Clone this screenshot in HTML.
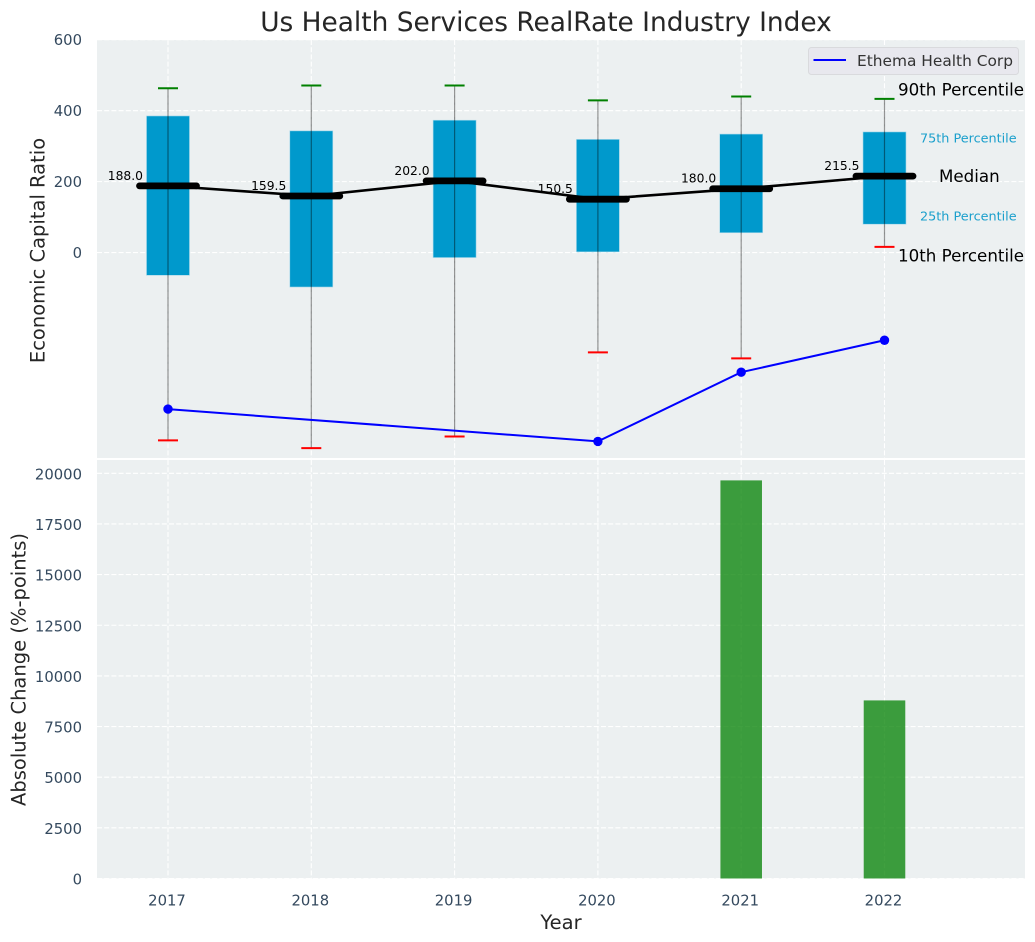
<!DOCTYPE html>
<html lang="en">
<head>
<meta charset="utf-8">
<title>Us Health Services RealRate Industry Index</title>
<style>
html,body{margin:0;padding:0;background:#fff;}
svg{display:block;font-family:"DejaVu Sans","Liberation Sans",sans-serif;}
</style>
</head>
<body>
<svg id="chart" xmlns="http://www.w3.org/2000/svg" width="1035" height="942" viewBox="0 0 1035 942">
  <rect x="0" y="0" width="1035" height="942" fill="#ffffff"/>
  <rect x="97" y="40" width="928" height="418" fill="#ecf0f1"/>
  <rect x="97" y="460" width="928" height="418.5" fill="#ecf0f1"/>
  <g id="layer-grid"></g>
  <g id="layer-marks"></g>
  <g id="layer-ticks"></g>
  <text x="546" y="31" text-anchor="middle" font-size="26.400px" fill="#262626">Us Health Services RealRate Industry Index</text>
  <text transform="translate(44.500,250.500) rotate(-90)" text-anchor="middle" font-size="19.500px" fill="#262626">Economic Capital Ratio</text>
  <text transform="translate(25.500,669.500) rotate(-90)" text-anchor="middle" font-size="19.500px" fill="#262626">Absolute Change (%-points)</text>
  <text x="561" y="929" text-anchor="middle" font-size="19.500px" fill="#262626">Year</text>
  <g>
    <rect x="808.5" y="47.5" width="210" height="27" rx="3" fill="#e8e8ee" stroke="#d9dadd" stroke-width="1"/>
    <line x1="813.5" y1="60" x2="846" y2="60" stroke="#0000ff" stroke-width="2"/>
    <text x="857" y="66" font-size="15.400px" fill="#333333">Ethema Health Corp</text>
  </g>
  <g>
    <text x="898" y="95.500" font-size="16.700px" fill="#000000">90th Percentile</text>
    <text x="920" y="142.500" font-size="12.800px" fill="#1a9fcc">75th Percentile</text>
    <text x="939" y="182" font-size="16.700px" fill="#000000">Median</text>
    <text x="920" y="220.500" font-size="12.800px" fill="#1a9fcc">25th Percentile</text>
    <text x="898" y="261.500" font-size="16.700px" fill="#000000">10th Percentile</text>
  </g>
</svg>
<script>
const years = [2017, 2018, 2019, 2020, 2021, 2022];
const p90 = [463, 471, 471, 429, 440, 433];
const p75 = [385, 343, 373, 319, 334, 340];
const medians = [188.0, 159.5, 202.0, 150.5, 180.0, 215.5];
const p25 = [-64, -97, -14, 2, 56, 80];
const p10 = [-529, -551, -518, -281, -298, 16];
const companyValues = [-441, null, null, -532, -337, -247];
const changeValues = [null, null, null, null, 19650, 8790];
const topTicks = [0, 200, 400, 600];
const bottomTicks = [0, 2500, 5000, 7500, 10000, 12500, 15000, 17500, 20000];

const NS = 'http://www.w3.org/2000/svg';
const xScale = function (year) { return 168 + (year - 2017) * 143.3; };
const yTop = function (value) { return 252.6 - value * 0.3549; };
const yBottom = function (value) { return 878.5 - value * 0.02026; };
const xWidth = function (yearSpan) { return yearSpan * 143.3; };

function make(parent, tag, attrs, text) {
  const el = document.createElementNS(NS, tag);
  for (const key in attrs) el.setAttribute(key, attrs[key]);
  if (text !== undefined) el.textContent = text;
  parent.appendChild(el);
  return el;
}

const gridLayer = document.getElementById('layer-grid');
const markLayer = document.getElementById('layer-marks');
const tickLayer = document.getElementById('layer-ticks');
const gridStyle = { stroke: '#ffffff', 'stroke-width': 1.1, 'stroke-dasharray': '5 2.2', fill: 'none' };
const tickStyle = { fill: '#34495e', 'font-size': '14.800px' };

years.forEach(function (year) {
  const x = xScale(year);
  const upper = make(gridLayer, 'line', Object.assign({ x1: x, x2: x, y1: 40, y2: 458 }, gridStyle));
  
  
  const lower = make(gridLayer, 'line', Object.assign({ x1: x, x2: x, y1: 460, y2: 878.5 }, gridStyle));
  
  
  const label = make(tickLayer, 'text', Object.assign({ x: x - 1, y: 905.5, 'text-anchor': 'middle' }, tickStyle), String(year));
  
  
});

topTicks.forEach(function (tick) {
  const y = yTop(tick);
  const grid = make(gridLayer, 'line', Object.assign({ x1: 97, x2: 1025, y1: y, y2: y }, gridStyle));
  
  
  const label = make(tickLayer, 'text', Object.assign({ x: 82, y: y + 5.5, 'text-anchor': 'end' }, tickStyle), String(tick));
  
  
});

bottomTicks.forEach(function (tick) {
  const y = yBottom(tick);
  const grid = make(gridLayer, 'line', Object.assign({ x1: 97, x2: 1025, y1: y, y2: y }, gridStyle));
  
  
  const label = make(tickLayer, 'text', Object.assign({ x: 82, y: y + 6, 'text-anchor': 'end' }, tickStyle), String(tick));
  
  
});

years.forEach(function (year, i) {
  const x = xScale(year);
  const half = xWidth(0.3) / 2;
  const box = make(markLayer, 'rect', { x: x - half, y: yTop(p75[i]), width: half * 2, height: yTop(p25[i]) - yTop(p75[i]), fill: '#0099cc', stroke: '#a6d8ea', 'stroke-width': 0.6 });
  
  
  const whisker = make(markLayer, 'line', { x1: x, x2: x, y1: yTop(p90[i]), y2: yTop(p10[i]), stroke: '#000000', 'stroke-opacity': 0.42, 'stroke-width': 1.2 });
  
  
  const capHigh = make(markLayer, 'line', { x1: x - 10, x2: x + 10, y1: yTop(p90[i]), y2: yTop(p90[i]), stroke: '#008000', 'stroke-width': 2 });
  
  
  const capLow = make(markLayer, 'line', { x1: x - 10, x2: x + 10, y1: yTop(p10[i]), y2: yTop(p10[i]), stroke: '#ff0000', 'stroke-width': 2 });
  
  
});

const medianPoints = years.map(function (year, i) { return xScale(year) + ',' + yTop(medians[i]); }).join(' ');
const medianLine = make(markLayer, 'polyline', { points: medianPoints, fill: 'none', stroke: '#000000', 'stroke-width': 2.6 });



years.forEach(function (year, i) {
  const x = xScale(year);
  const y = yTop(medians[i]);
  const bar = make(markLayer, 'line', { x1: x - 28.5, x2: x + 28.5, y1: y, y2: y, stroke: '#000000', 'stroke-width': 6.8, 'stroke-linecap': 'round' });
  
  
  const label = make(markLayer, 'text', { x: x - 25, y: y - 6, 'text-anchor': 'end', 'font-size': '12.300px', fill: '#000000' }, medians[i].toFixed(1));
  
  
});

const companyPoints = [];
years.forEach(function (year, i) {
  if (companyValues[i] !== null) companyPoints.push(xScale(year) + ',' + yTop(companyValues[i]));
});
const companyLine = make(markLayer, 'polyline', { points: companyPoints.join(' '), fill: 'none', stroke: '#0000ff', 'stroke-width': 2 });



years.forEach(function (year, i) {
  if (companyValues[i] === null) return;
  const point = make(markLayer, 'circle', { cx: xScale(year), cy: yTop(companyValues[i]), r: 4.7, fill: '#0000ff' });
  
  
});

years.forEach(function (year, i) {
  if (changeValues[i] === null) return;
  const half = xWidth(0.29) / 2;
  const bar = make(markLayer, 'rect', { x: xScale(year) - half, y: yBottom(changeValues[i]), width: half * 2, height: yBottom(0) - yBottom(changeValues[i]), fill: '#008000', 'fill-opacity': 0.75 });
  
  
});
</script>
</body>
</html>
